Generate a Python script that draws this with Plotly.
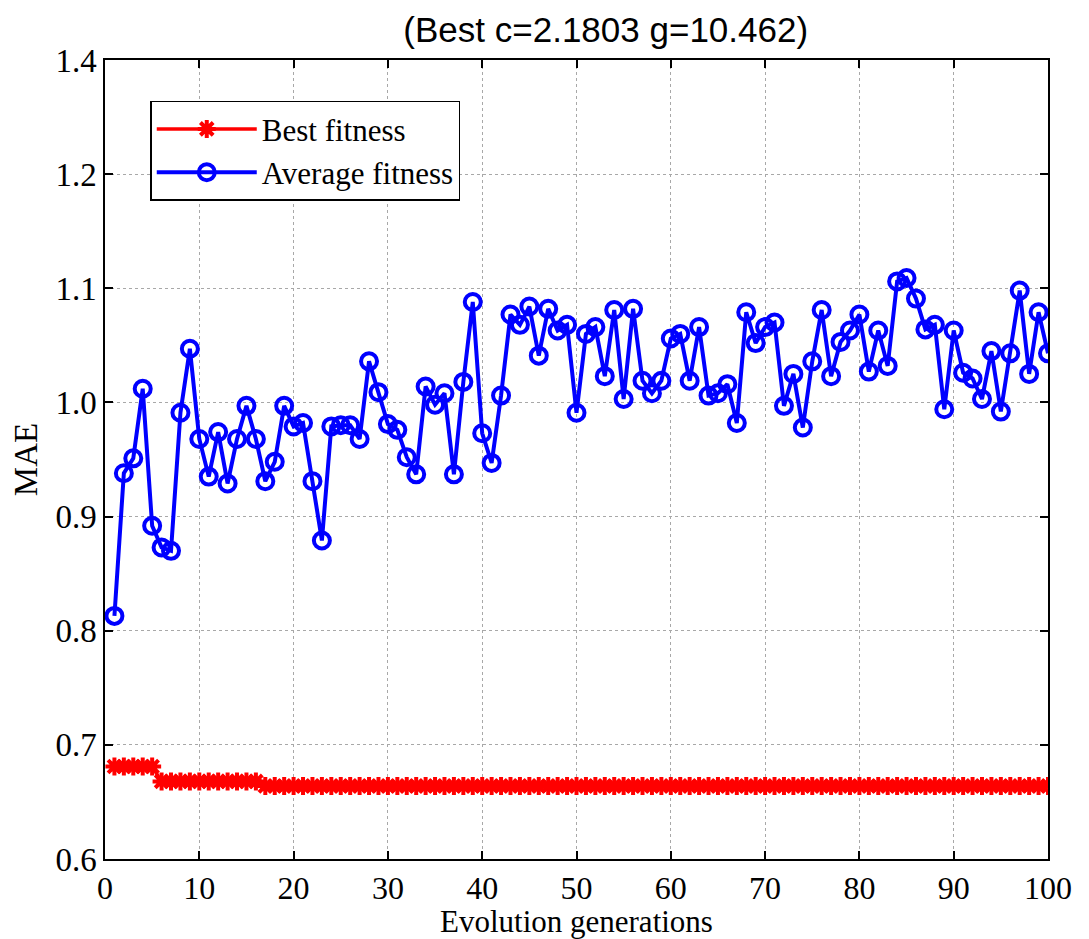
import plotly.graph_objects as go

generations = list(range(1, 101))

best_fitness = [0.681] * 5 + [0.668] * 11 + [0.664] * 84

average_fitness = [
    0.813, 0.938, 0.951, 1.012, 0.892, 0.873, 0.870, 0.991, 1.047, 0.968,
    0.935, 0.974, 0.929, 0.968, 0.997, 0.968, 0.931, 0.948, 0.997, 0.979,
    0.982, 0.931, 0.879, 0.979, 0.980, 0.980, 0.968, 1.036, 1.009, 0.981,
    0.976, 0.952, 0.937, 1.014, 0.998, 1.008, 0.937, 1.018, 1.088, 0.973,
    0.947, 1.006, 1.077, 1.068, 1.084, 1.041, 1.082, 1.063, 1.068, 0.991,
    1.060, 1.066, 1.023, 1.081, 1.003, 1.082, 1.019, 1.008, 1.019, 1.056,
    1.060, 1.019, 1.066, 1.006, 1.008, 1.016, 0.982, 1.079, 1.052, 1.066,
    1.070, 0.997, 1.025, 0.978, 1.036, 1.081, 1.023, 1.053, 1.063, 1.077,
    1.027, 1.063, 1.032, 1.106, 1.109, 1.091, 1.064, 1.068, 0.994, 1.063,
    1.026, 1.021, 1.003, 1.045, 0.992, 1.043, 1.098, 1.025, 1.079, 1.043,
]

x_ticks = [0, 10, 20, 30, 40, 50, 60, 70, 80, 90, 100]
y_tick_vals = [0.6, 0.7, 0.8, 0.9, 1.0, 1.1, 1.2, 1.3]
y_tick_text = ["0.6", "0.7", "0.8", "0.9", "1.0", "1.1", "1.2", "1.4"]

title_text = "(Best c=2.1803 g=10.462)"
x_title = "Evolution generations"
y_title = "MAE"

serif = "Liberation Serif, Times New Roman, serif"
sans = "Liberation Sans, Arial, sans-serif"

fig = go.Figure()

fig.add_trace(go.Scatter(
    x=generations, y=best_fitness, mode="lines+markers",
    name="Best fitness",
    line=dict(color="#ff0000", width=3.5),
    marker=dict(symbol="asterisk-open", size=15, color="#ff0000",
                line=dict(color="#ff0000", width=4)),
))

fig.add_trace(go.Scatter(
    x=generations, y=average_fitness, mode="lines+markers",
    name="Average fitness",
    line=dict(color="#0000ff", width=4),
    marker=dict(symbol="circle-open", size=16, color="#0000ff",
                line=dict(color="#0000ff", width=4)),
))

axis_common = dict(
    showline=True, linecolor="black", linewidth=1.5, mirror="ticks",
    ticks="inside", ticklen=8, tickwidth=1.5, tickcolor="black",
    showgrid=True, gridcolor="#a8a8a8", griddash="dot", gridwidth=1,
    zeroline=False,
    tickfont=dict(family=serif, size=33, color="black"),
)

fig.update_xaxes(range=[0, 100], tickvals=x_ticks,
                 **{**axis_common, "tickfont": dict(family=serif, size=32, color="black")})
fig.update_yaxes(
    range=[0.6, 1.3], tickvals=y_tick_vals, ticktext=y_tick_text,
    title=dict(text=y_title, font=dict(family=serif, size=33, color="black"), standoff=12),
    **axis_common,
)

fig.add_annotation(
    text=x_title, xref="paper", yref="paper", x=0.5, y=-0.0785,
    xanchor="center", yanchor="middle", showarrow=False,
    font=dict(family=serif, size=31, color="black"),
)

fig.update_layout(
    width=1089, height=939,
    margin=dict(l=97, r=49, t=52, b=88),
    paper_bgcolor="white", plot_bgcolor="white",
    title=dict(text=title_text, x=0.531, xref="paper", xanchor="center",
               y=1 - 22 / 939, yref="container", yanchor="middle",
               font=dict(family=sans, size=35, color="black")),
    legend=dict(x=0.048, y=0.949, xanchor="left", yanchor="top",
                bgcolor="white", bordercolor="black", borderwidth=1.5,
                font=dict(family=serif, size=31, color="black"),
                itemwidth=100, tracegroupgap=0),
    showlegend=True,
)

fig.write_html("out.html")
